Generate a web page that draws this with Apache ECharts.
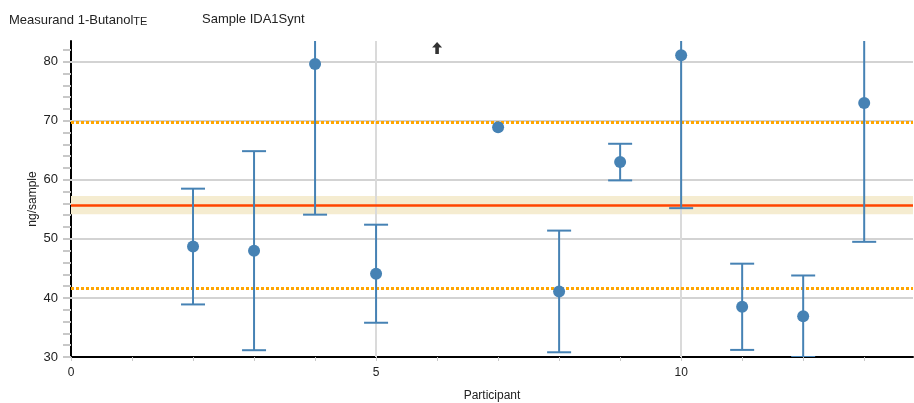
<!DOCTYPE html>
<html>
<head>
<meta charset="utf-8">
<script src="https://cdn.jsdelivr.net/npm/echarts@6/dist/echarts.min.js"></script>
<style>
html,body{margin:0;padding:0;background:#fff;}
#chart{width:914px;height:403px;}
</style>
</head>
<body>
<div id="chart"></div>
<script>
// ---- data ----
var participants = [2, 3, 4, 5, 7, 8, 9, 10, 11, 12, 13];
var values = [48.7, 48.0, 79.6, 44.1, 68.9, 41.1, 63.0, 81.1, 38.5, 36.9, 73.0];
var uncertainties = [9.8, 16.85, 25.5, 8.3, null, 10.3, 3.1, 25.9, 7.3, 6.9, 23.5];
var offscaleParticipants = [6];
var offscaleMarkerValues = [82.3];
var assignedValue = 55.7;
var assignedUncertainty = 1.55;
var toleranceUpper = 69.7;
var toleranceLower = 41.7;
var xTicks = [0, 5, 10];
var xMinorTicks = [0, 1, 2, 3, 4, 5, 6, 7, 8, 9, 10, 11, 12, 13];
var xGridLines = [5, 10];
var yTicks = [30, 40, 50, 60, 70, 80];
var yMinorTicks = [30, 32, 34, 36, 38, 40, 42, 44, 46, 48, 50, 52, 54, 56, 58, 60, 62, 64, 66, 68, 70, 72, 74, 76, 78, 80, 82];
var yGridLines = [40, 50, 60, 70, 80];

var pointData = participants.map(function (p, i) { return [p, values[i]]; });
var errData = [];
participants.forEach(function (p, i) {
  if (uncertainties[i] != null) {
    errData.push([p, values[i] - uncertainties[i], values[i] + uncertainties[i]]);
  }
});
var arrowData = offscaleParticipants.map(function (p, i) { return [p, offscaleMarkerValues[i]]; });

var chart = echarts.init(document.getElementById('chart'));
var FONT = 'Liberation Sans, Arial, sans-serif';
var XMIN = 0, XMAX = 13.8, YMIN = 30, YMAX = 83.5;

var gridLineData = [];
yGridLines.forEach(function (v) {
  gridLineData.push({ yAxis: v, lineStyle: { color: '#d3d3d3', width: 2, type: 'solid' } });
});
xGridLines.forEach(function (v) {
  gridLineData.push({ xAxis: v, lineStyle: { color: '#dadada', width: 2, type: 'solid' } });
});

var option = {
  animation: false,
  backgroundColor: '#fff',
  textStyle: { fontFamily: FONT },
  title: [
    {
      left: 9, top: 11, padding: 0,
      text: '{a|Measurand 1-Butanol}{s|TE}',
      textStyle: {
        fontWeight: 'normal',
        rich: {
          a: { fontSize: 13, color: '#222', fontFamily: FONT, fontWeight: 'normal', lineHeight: 16, verticalAlign: 'bottom' },
          s: { fontSize: 11, color: '#222', fontFamily: FONT, fontWeight: 'normal', padding: [6, 0, 0, 0], lineHeight: 16, verticalAlign: 'bottom' }
        }
      }
    },
    {
      left: 202, top: 11, padding: 0,
      text: 'Sample IDA1Synt',
      textStyle: { fontSize: 13, color: '#222', fontFamily: FONT, fontWeight: 'normal', lineHeight: 16 }
    }
  ],
  grid: { left: 71, right: 1, top: 41, bottom: 46, containLabel: false, outerBoundsMode: 'none' },
  xAxis: {
    type: 'value', min: XMIN, max: XMAX, interval: 5,
    name: 'Participant', nameLocation: 'middle', nameGap: 33, nameMoveOverlap: false,
    nameTextStyle: { fontSize: 12, color: '#222', fontFamily: FONT },
    axisLine: { show: true, onZero: false, lineStyle: { color: '#000', width: 2 } },
    axisTick: { show: true, length: 4, customValues: xMinorTicks, lineStyle: { color: '#c8c8c8', width: 1 } },
    axisLabel: { fontSize: 12, color: '#222', margin: 10, fontFamily: FONT, customValues: xTicks },
    splitLine: { show: false }
  },
  yAxis: {
    type: 'value', min: YMIN, max: YMAX, interval: 10,
    name: 'ng/sample', nameLocation: 'middle', nameGap: 32, nameMoveOverlap: false,
    nameTextStyle: { fontSize: 12, color: '#222', fontFamily: FONT },
    axisLine: { show: true, onZero: false, lineStyle: { color: '#000', width: 2 } },
    axisTick: { show: true, length: 8, customValues: yMinorTicks, lineStyle: { color: '#c8c8c8', width: 2 } },
    axisLabel: { fontSize: 13, color: '#222', margin: 13, fontFamily: FONT, customValues: yTicks },
    splitLine: { show: false }
  },
  series: [
    {
      type: 'line', data: [], silent: true, z: 1,
      markLine: {
        silent: true, symbol: 'none', label: { show: false },
        data: gridLineData
      }
    },
    {
      type: 'line', data: [], silent: true, z: 2,
      markArea: {
        silent: true,
        itemStyle: { color: '#F5ECD0' },
        data: [[{ yAxis: assignedValue - assignedUncertainty }, { yAxis: assignedValue + assignedUncertainty }]]
      },
      markLine: {
        silent: true, symbol: 'none', label: { show: false },
        data: [
          { yAxis: toleranceUpper, lineStyle: { color: '#FFA500', width: 3, type: [3, 2] } },
          { yAxis: toleranceLower, lineStyle: { color: '#FFA500', width: 3, type: [3, 2] } },
          { yAxis: assignedValue, lineStyle: { color: '#FF4500', width: 2.5, type: 'solid' } }
        ]
      }
    },
    {
      type: 'custom', data: errData, clip: true, silent: true, z: 5,
      renderItem: function (params, api) {
        var x = api.value(0);
        var lo = api.coord([x, api.value(1)]);
        var hi = api.coord([x, api.value(2)]);
        var hw = 12;
        var st = { stroke: '#4682B4', lineWidth: 2 };
        return {
          type: 'group',
          children: [
            { type: 'line', shape: { x1: lo[0], y1: lo[1], x2: hi[0], y2: hi[1] }, style: st },
            { type: 'line', shape: { x1: lo[0] - hw, y1: lo[1], x2: lo[0] + hw, y2: lo[1] }, style: st },
            { type: 'line', shape: { x1: hi[0] - hw, y1: hi[1], x2: hi[0] + hw, y2: hi[1] }, style: st }
          ]
        };
      }
    },
    {
      type: 'scatter', data: pointData, symbol: 'circle', symbolSize: 12, silent: true, z: 6,
      itemStyle: { color: '#4682B4', opacity: 1 }
    },
    {
      type: 'scatter', data: arrowData, silent: true, z: 6,
      symbol: 'path://M5,0 L10,5.5 L6.8,5.5 L6.8,12 L3.2,12 L3.2,5.5 L0,5.5 Z',
      symbolSize: [10, 12],
      itemStyle: { color: '#000' }
    }
  ]
};
chart.setOption(option);
</script>
</body>
</html>
